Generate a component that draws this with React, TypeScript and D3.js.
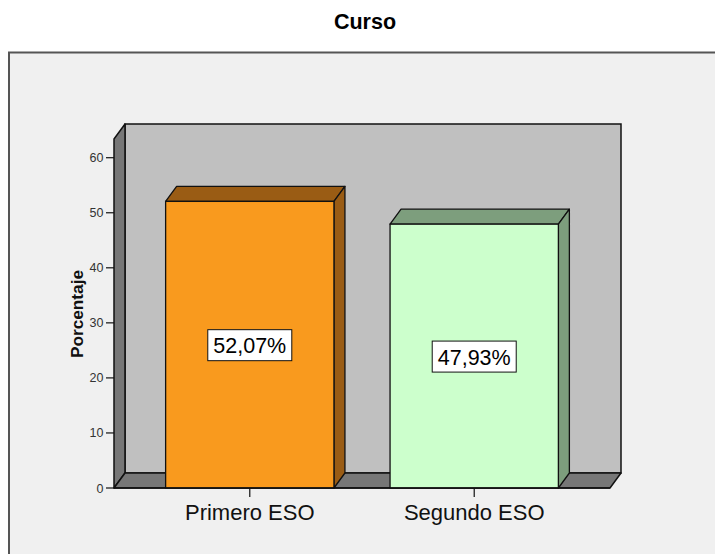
import React from "react";
import * as d3 from "d3";

const categories = ["Primero ESO", "Segundo ESO"];
const values = [52.07, 47.93];
const valueLabels = ["52,07%", "47,93%"];
const yTicks = [0, 10, 20, 30, 40, 50, 60];
const frontColors = ["#f99a1e", "#ccffcc"];
const darkColors = ["#9a5c14", "#7d9e7d"];

const W = 715;
const H = 554;
const FONT = "'Liberation Sans', Arial, Helvetica, sans-serif";

export default function App() {
  const x0 = 114, x1 = 610;
  const yBase = 488;
  const dx = 11, dy = 15;
  const y = d3.scaleLinear().domain([0, 63.4]).range([yBase, 139]);
  const x = d3
    .scaleBand<string>()
    .domain(categories)
    .range([x0, x1])
    .paddingInner(0.25)
    .paddingOuter(0.23);
  const bw = x.bandwidth();
  const topY = y(63.4);

  const pts = (a: number[][]) => a.map((p) => p.join(",")).join(" ");

  return (
    <svg
      width={W}
      height={H}
      style={{ position: "absolute", left: 0, top: 0, fontFamily: FONT }}
    >
      <rect x={0} y={0} width={W} height={H} fill="#ffffff" />
      <text x={365} y={29} textAnchor="middle" fontSize={21.5} fontWeight="bold" fill="#000">
        Curso
      </text>
      <rect x={9} y={52.5} width={W + 20} height={H} fill="#f0f0f0" stroke="#555" strokeWidth={2} />

      {/* back wall */}
      <rect
        x={x0 + dx}
        y={topY - dy}
        width={x1 - x0}
        height={yBase - topY}
        fill="#c0c0c0"
        stroke="#111"
        strokeWidth={1.5}
      />
      {/* side wall */}
      <polygon
        points={pts([
          [x0, topY],
          [x0 + dx, topY - dy],
          [x0 + dx, yBase - dy],
          [x0, yBase],
        ])}
        fill="#777"
        stroke="#111"
        strokeWidth={1.5}
        strokeLinejoin="round"
      />
      {/* floor */}
      <polygon
        points={pts([
          [x0, yBase],
          [x0 + dx, yBase - dy],
          [x1 + dx, yBase - dy],
          [x1, yBase],
        ])}
        fill="#777"
        stroke="#111"
        strokeWidth={1.5}
        strokeLinejoin="round"
      />

      {/* y axis ticks */}
      {yTicks.map((t) => (
        <g key={t}>
          <line x1={106} x2={x0} y1={y(t)} y2={y(t)} stroke="#111" strokeWidth={1.2} />
          <text x={103.5} y={y(t) + 4.5} textAnchor="end" fontSize={12.5} fill="#333">
            {t}
          </text>
        </g>
      ))}
      <text
        transform={`translate(83,314) rotate(-90)`}
        textAnchor="middle"
        fontSize={16}
        fontWeight="bold"
        fill="#111"
        textLength={88}
        lengthAdjust="spacingAndGlyphs"
      >
        Porcentaje
      </text>

      {/* bars */}
      {categories.map((c, i) => {
        const bx = x(c) as number;
        const by = y(values[i]);
        return (
          <g key={c}>
            <polygon
              points={pts([
                [bx, by],
                [bx + dx, by - dy],
                [bx + bw + dx, by - dy],
                [bx + bw, by],
              ])}
              fill={darkColors[i]}
              stroke="#111"
              strokeWidth={1.3}
              strokeLinejoin="round"
            />
            <polygon
              points={pts([
                [bx + bw, by],
                [bx + bw + dx, by - dy],
                [bx + bw + dx, yBase - dy],
                [bx + bw, yBase],
              ])}
              fill={darkColors[i]}
              stroke="#111"
              strokeWidth={1.3}
              strokeLinejoin="round"
            />
            <rect x={bx} y={by} width={bw} height={yBase - by} fill={frontColors[i]} stroke="#111" strokeWidth={1.3} />
            <rect
              x={bx + bw / 2 - 42}
              y={(by + yBase) / 2 - 15}
              width={84}
              height={31}
              fill="#fff"
              stroke="#111"
              strokeWidth={1}
            />
            <text
              x={bx + bw / 2}
              y={(by + yBase) / 2 + 8.5}
              textAnchor="middle"
              fontSize={21.5}
              fill="#000"
            >
              {valueLabels[i]}
            </text>
            <line
              x1={bx + bw / 2}
              x2={bx + bw / 2}
              y1={yBase}
              y2={yBase + 9}
              stroke="#111"
              strokeWidth={1.2}
            />
            <text x={bx + bw / 2} y={520} textAnchor="middle" fontSize={22} fill="#111">
              {c}
            </text>
          </g>
        );
      })}
      {/* redraw baseline */}
      <line x1={x0} x2={x1} y1={yBase} y2={yBase} stroke="#111" strokeWidth={1.5} />
    </svg>
  );
}
